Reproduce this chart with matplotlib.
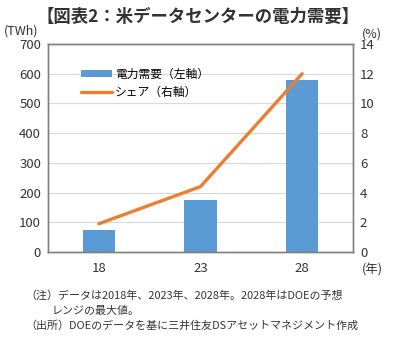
import matplotlib
matplotlib.use("Agg")
import matplotlib.pyplot as plt
import numpy as np

plt.rcParams['font.family'] = ['Noto Sans CJK JP', 'DejaVu Sans']

years = ["18", "23", "28"]
demand = [74, 175, 580]      # TWh
share = [1.9, 4.4, 12.0]     # %

fig = plt.figure(figsize=(3.96, 3.43), dpi=100)
ax = fig.add_axes([48 / 396, 1 - 252 / 343, 305 / 396, 208 / 343])
ax2 = ax.twinx()

x = np.arange(len(years))
ax.bar(x, demand, width=0.32, color='#5B9BD5', label='電力需要（左軸）', zorder=2)
ax2.plot(x, share, color='#ED7D31', linewidth=2.4, label='シェア（右軸）',
         solid_capstyle='round', zorder=3)

ax.set_xlim(-0.5, 2.5)
ax.set_ylim(0, 700)
ax2.set_ylim(0, 14)
ax.set_yticks(range(0, 701, 100))
ax2.set_yticks(range(0, 15, 2))
ax.set_xticks(x)
ax.set_xticklabels(years)

for v in range(100, 700, 100):
    ax.axhline(v, color='#D9D9D9', linewidth=0.8, zorder=1)

for a in (ax, ax2):
    for s in a.spines.values():
        s.set_color('#808080')
        s.set_linewidth(1.0)
    a.tick_params(length=0, labelsize=9.5, colors='#333333', pad=5)
ax.tick_params(axis='x', pad=7)

h1, l1 = ax.get_legend_handles_labels()
h2, l2 = ax2.get_legend_handles_labels()
ax2.legend(h1 + h2, l1 + l2, loc='upper left', bbox_to_anchor=(0.085, 0.92),
           frameon=False, fontsize=8.5, handlelength=2.6, handleheight=0.6,
           handletextpad=0.3, labelspacing=0.45, borderaxespad=0.2)

fig.text(0.5, 1 - 17 / 343, '【図表2：米データセンターの電力需要】', ha='center', va='center',
         fontsize=12.5, fontweight='bold', color='#333333')
fig.text(4 / 396, 1 - 31 / 343, '(TWh)', ha='left', va='center', fontsize=9, color='#333333')
fig.text(372 / 396, 1 - 34 / 343, '(%)', ha='center', va='center', fontsize=9, color='#333333')
fig.text(372 / 396, 1 - 270 / 343, '(年)', ha='center', va='center', fontsize=9, color='#333333')

notes = [
    (25, 296, '（注）データは2018年、2023年、2028年。2028年はDOEの予想'),
    (52, 311, 'レンジの最大値。'),
    (25, 326, '（出所）DOEのデータを基に三井住友DSアセットマネジメント作成'),
]
for nx, ny, t in notes:
    fig.text(nx / 396, 1 - ny / 343, t, ha='left', va='center', fontsize=7.9, color='#333333')

fig.savefig('out.png', dpi=100)
